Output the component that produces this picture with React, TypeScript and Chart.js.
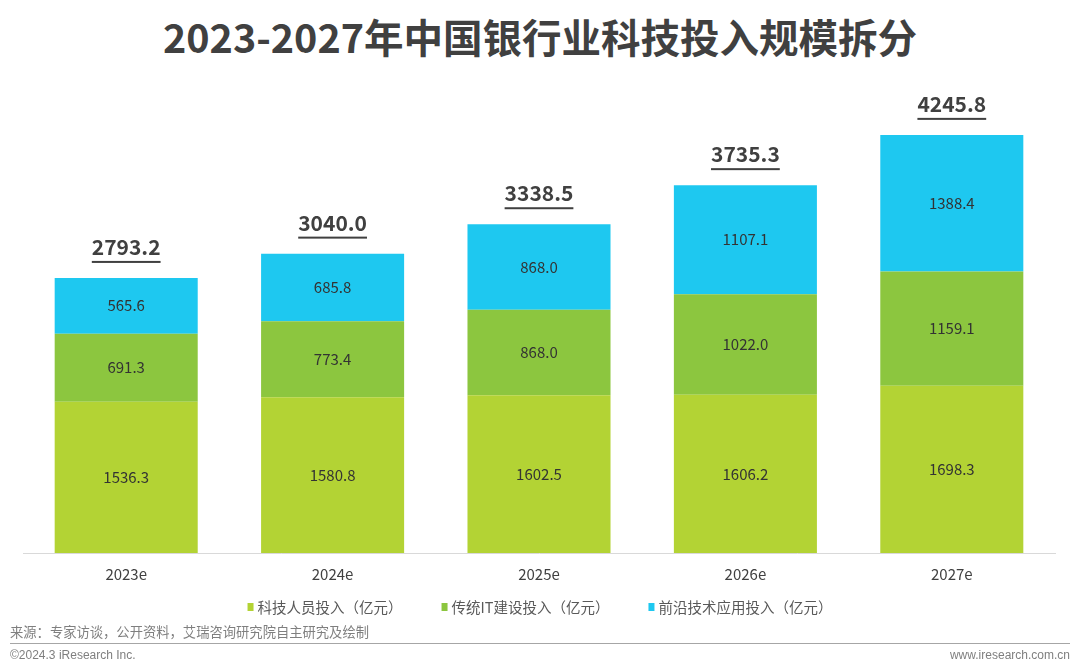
import React, { useEffect, useRef } from "react";
import { Chart, registerables } from "chart.js";

Chart.register(...registerables);

const categories = ["2023e", "2024e", "2025e", "2026e", "2027e"];
const staffInvestment = [1536.3, 1580.8, 1602.5, 1606.2, 1698.3];
const legacyITInvestment = [691.3, 773.4, 868.0, 1022.0, 1159.1];
const frontierTechInvestment = [565.6, 685.8, 868.0, 1107.1, 1388.4];
const totals = [2793.2, 3040.0, 3338.5, 3735.3, 4245.8];
const seriesNames = ["科技人员投入（亿元）", "传统IT建设投入（亿元）", "前沿技术应用投入（亿元）"];
const seriesColors = ["#B3D334", "#8CC63F", "#1EC8F0"];

const FONT = '"Noto Sans CJK SC", "Noto Sans", sans-serif';

const labelPlugin = {
  id: "valueLabels",
  afterDatasetsDraw(chart: any) {
    const ctx = chart.ctx;
    ctx.save();
    ctx.textAlign = "center";
    ctx.textBaseline = "middle";
    ctx.fillStyle = "#333333";
    ctx.font = `15px ${FONT}`;
    chart.data.datasets.forEach((ds: any, i: number) => {
      const meta = chart.getDatasetMeta(i);
      meta.data.forEach((el: any, j: number) => {
        const p = el.getProps(["x", "y", "base"], true);
        ctx.fillText(Number(ds.data[j]).toFixed(1), p.x, (p.y + p.base) / 2);
      });
    });
    // totals
    const lastMeta = chart.getDatasetMeta(chart.data.datasets.length - 1);
    ctx.font = `bold 21px ${FONT}`;
    ctx.fillStyle = "#404040";
    ctx.textBaseline = "alphabetic";
    lastMeta.data.forEach((el: any, j: number) => {
      const p = el.getProps(["x", "y"], true);
      const txt = totals[j].toFixed(1);
      const w = ctx.measureText(txt).width;
      ctx.fillText(txt, p.x, p.y - 23);
      ctx.fillRect(p.x - w / 2, p.y - 17, w, 2);
    });
    ctx.restore();
  },
  afterDraw(chart: any) {
    const ctx = chart.ctx;
    ctx.save();
    ctx.font = `14.5px ${FONT}`;
    ctx.textBaseline = "middle";
    ctx.textAlign = "left";
    const markerW = 6;
    const markerH = 8;
    const textGap = 4;
    const itemGap = 39;
    const widths = chart.data.datasets.map(
      (ds: any) => markerW + textGap + ctx.measureText(ds.label).width
    );
    const total = widths.reduce((a: number, b: number) => a + b, 0) + itemGap * (widths.length - 1);
    let x = chart.width / 2 - total / 2;
    const y = 607;
    chart.data.datasets.forEach((ds: any, i: number) => {
      ctx.fillStyle = ds.backgroundColor;
      ctx.fillRect(x, y - markerH / 2, markerW, markerH);
      ctx.fillStyle = "#595959";
      ctx.fillText(ds.label, x + markerW + textGap, y);
      x += widths[i] + itemGap;
    });
    ctx.restore();
  },
};

export default function App() {
  const canvasRef = useRef<HTMLCanvasElement | null>(null);

  useEffect(() => {
    if (!canvasRef.current) return;
    const seriesData = [staffInvestment, legacyITInvestment, frontierTechInvestment];
    const chart = new Chart(canvasRef.current, {
      type: "bar",
      data: {
        labels: categories,
        datasets: seriesData.map((d, i) => ({
          label: seriesNames[i],
          data: d,
          backgroundColor: seriesColors[i],
          borderWidth: 0,
          barPercentage: 0.693,
          categoryPercentage: 1,
        })),
      },
      options: {
        responsive: false,
        animation: false,
        maintainAspectRatio: false,
        layout: { padding: { left: 23, right: 25, top: 100, bottom: 75 } },
        plugins: {
          legend: { display: false },
          title: { display: false },
          tooltip: { enabled: false },
        },
        scales: {
          x: {
            stacked: true,
            grid: { display: false, drawTicks: false },
            border: { display: true, color: "#D9D9D9", width: 1 },
            ticks: {
              color: "#404040",
              font: { family: FONT, size: 15 },
              padding: 12,
            },
          },
          y: {
            stacked: true,
            display: false,
            min: 0,
            max: 4600,
          },
        },
      },
      plugins: [labelPlugin],
    });
    return () => chart.destroy();
  }, []);

  return (
    <div style={{ position: "fixed", left: 0, top: 0, width: 1080, height: 670, background: "#fff", fontFamily: FONT }}>
      <div
        style={{
          position: "absolute",
          left: 0,
          top: 11,
          width: 1080,
          textAlign: "center",
          fontSize: 39.5,
          lineHeight: "50px",
          fontWeight: "bold",
          color: "#404040",
        }}
      >
        2023-2027年中国银行业科技投入规模拆分
      </div>
      <canvas ref={canvasRef} width={1080} height={670} style={{ position: "absolute", left: 0, top: 0 }} />
      <div
        style={{
          position: "absolute",
          left: 10,
          top: 623,
          fontSize: 13.3,
          lineHeight: "18px",
          color: "#7F7F7F",
        }}
      >
        来源：专家访谈，公开资料，艾瑞咨询研究院自主研究及绘制
      </div>
      <div style={{ position: "absolute", left: 10, top: 643, width: 1060, height: 1, background: "#A6A6A6" }} />
      <div
        style={{
          position: "absolute",
          left: 10,
          top: 647,
          fontSize: 12,
          lineHeight: "16px",
          color: "#7F7F7F",
          fontFamily: '"Liberation Sans", Arial, sans-serif',
        }}
      >
        ©2024.3 iResearch Inc.
      </div>
      <div
        style={{
          position: "absolute",
          right: 10,
          top: 647,
          fontSize: 12,
          lineHeight: "16px",
          color: "#7F7F7F",
          fontFamily: '"Liberation Sans", Arial, sans-serif',
        }}
      >
        www.iresearch.com.cn
      </div>
    </div>
  );
}
